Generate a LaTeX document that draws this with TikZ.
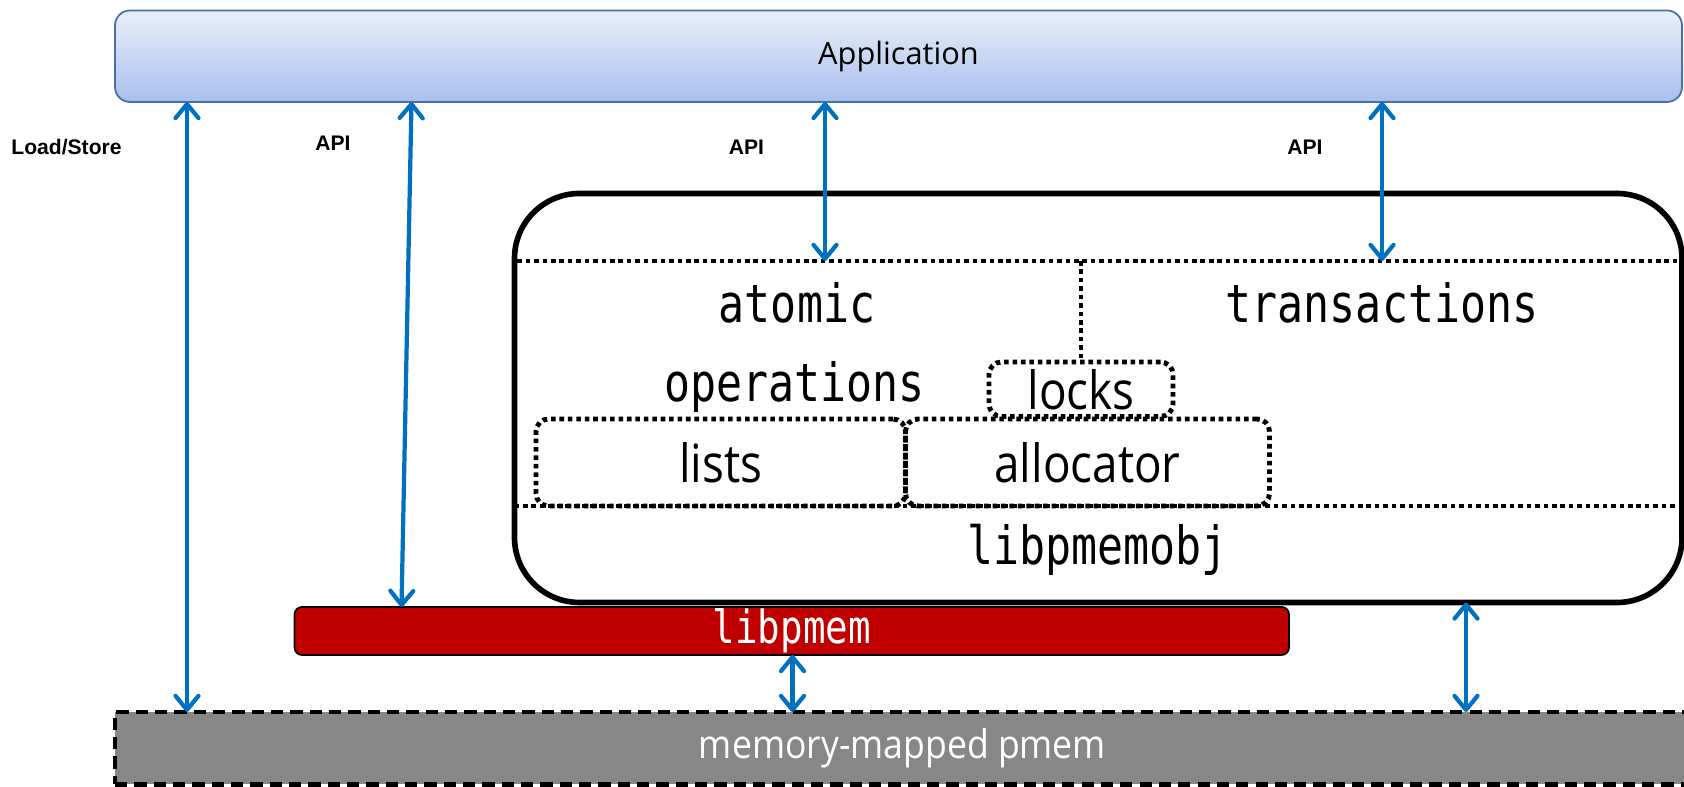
\documentclass[tikz,border=0pt]{standalone}
\usepackage{fontspec}
\setmainfont{Liberation Sans}
\newfontfamily\appfont{Open Sans}
\newfontfamily\partfont[FakeStretch=0.87]{Open Sans}
\newfontfamily\memfont[FakeStretch=0.9]{Open Sans}
\newfontfamily\codefont[FakeStretch=0.82]{DejaVu Sans Mono}
\usetikzlibrary{arrows.meta}

\definecolor{apptop}{HTML}{EAF0FB}
\definecolor{appbot}{HTML}{A8BFEC}
\definecolor{appline}{HTML}{4A6FA5}
\definecolor{arrowblue}{HTML}{0070C0}
\definecolor{pmemred}{HTML}{C00000}
\definecolor{memgray}{HTML}{878787}

\begin{document}
\begin{tikzpicture}
\useasboundingbox (0,0) rectangle (33.68,15.74);
\tikzstyle{every node}=[inner sep=0pt, outer sep=0pt]
\tikzstyle{label}=[font=\bfseries\fontsize{12}{14}\selectfont]
\tikzstyle{code}=[font=\codefont\fontsize{30}{34}\selectfont]
\tikzstyle{dots}=[line width=2.8pt, dash pattern=on 2.6pt off 2.2pt]
\tikzstyle{part}=[draw, dots, rounded corners=0.25cm]
\tikzstyle{api}=[arrowblue, line width=2.4pt,
  {Straight Barb[round,length=2.8mm,width=4.6mm]}-{Straight Barb[round,length=2.8mm,width=4.6mm]}]

% top and bottom layers
\node at (17.97,14.615) [draw=appline, line width=1pt, rounded corners=0.3cm,
  top color=apptop, bottom color=appbot, minimum width=31.34cm, minimum height=1.83cm,
  font=\appfont\fontsize{17.5}{20}\selectfont] (app) {Application};
\node at (18.05,0.775) [draw, fill=memgray, line width=2.6pt, dash pattern=on 7pt off 4pt,
  minimum width=31.5cm, minimum height=1.45cm, text=white,
  font=\memfont\fontsize{22.5}{26}\selectfont] (mem) {memory-mapped pmem};
\node at (15.835,3.12) [draw, fill=pmemred, line width=1pt, rounded corners=0.15cm,
  minimum width=19.89cm, minimum height=0.96cm, text=white,
  font=\codefont\fontsize{26}{30}\selectfont] (pmem) {libpmem};

% libpmemobj and its parts
\node at (21.965,7.78) [draw, line width=3.2pt, rounded corners=1.3cm,
  minimum width=23.35cm, minimum height=8.18cm] (obj) {};
\node at (21.965,8.07) [draw, dots,
  minimum width=23.35cm, minimum height=4.9cm] (region) {};
\node at (21.95,4.74) [code] (objname) {libpmemobj};
\node at (15.94,9.68) [code] (atomic) {atomic};
\node at (15.89,8.01) [code] (ops) {operations};
\node at (27.64,9.68) [code] (tx) {transactions};
\node at (21.62,7.955) [part, minimum width=3.68cm, minimum height=1.09cm,
  font=\partfont\fontsize{30}{34}\selectfont] (locks) {locks};
\node at (14.415,6.49) [part, minimum width=7.39cm, minimum height=1.74cm,
  font=\partfont\fontsize{30}{34}\selectfont] (lists) {lists};
\node at (21.75,6.49) [part, minimum width=7.28cm, minimum height=1.74cm,
  font=\partfont\fontsize{30}{34}\selectfont] (alloc) {allocator};
\draw[dots] (region.north -| locks) -- (locks.north);

% labels
\node at (1.33,12.80) [label] (ls) {Load/Store};
\node at (6.66,12.88) [label] (api1) {API};
\node at (14.93,12.80) [label] (api2) {API};
\node at (26.10,12.80) [label] (api3) {API};

% connectors
\coordinate (c1) at (3.74,0);
\coordinate (c2t) at (8.23,0);
\coordinate (c2b) at (8.03,0);
\coordinate (c3) at (16.50,0);
\coordinate (c4) at (27.64,0);
\coordinate (c5) at (15.85,0);
\coordinate (c6) at (29.32,0);
\draw[api] (app.south -| c1) -- (mem.north -| c1);
\draw[api] (app.south -| c2t) -- (pmem.north -| c2b);
\draw[api] (app.south -| c3) -- (region.north -| c3);
\draw[api] (app.south -| c4) -- (region.north -| c4);
\draw[api] (pmem.south -| c5) -- (mem.north -| c5);
\draw[api] (obj.south -| c6) -- (mem.north -| c6);
\end{tikzpicture}
\end{document}
